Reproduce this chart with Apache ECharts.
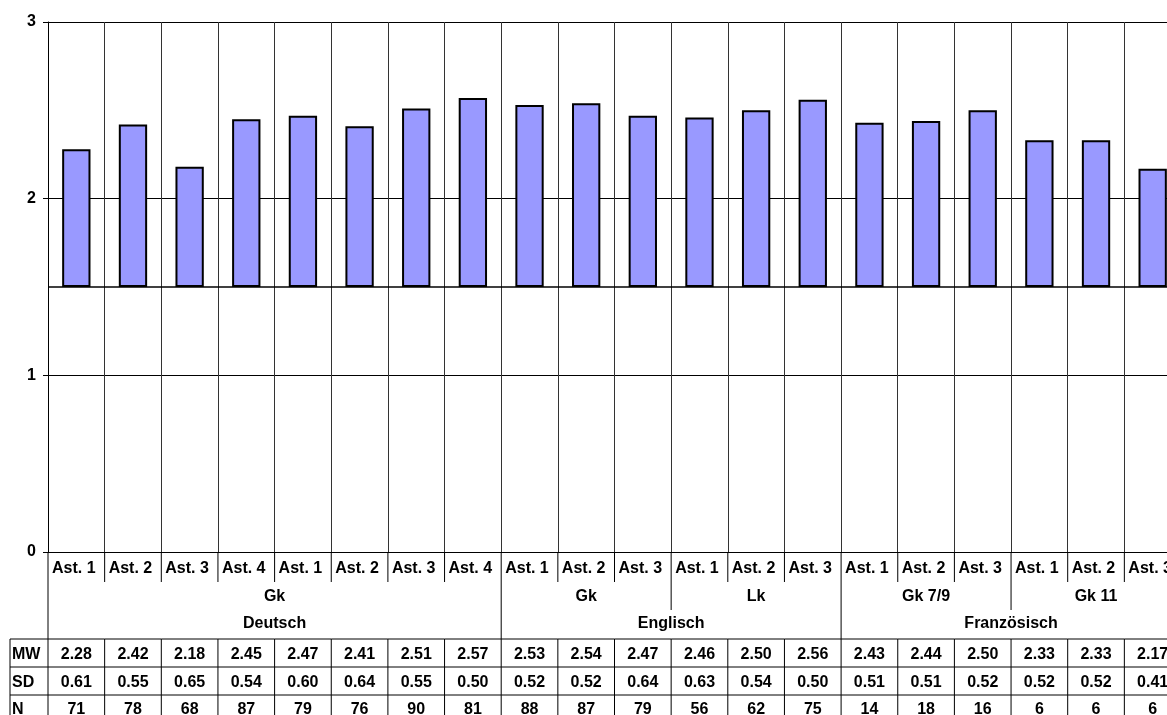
<!DOCTYPE html>
<html>
<head>
<meta charset="utf-8">
<script src="https://cdn.jsdelivr.net/npm/echarts@6/dist/echarts.min.js"></script>
<style>
  html, body { margin: 0; padding: 0; background: #fff; }
  #chart { width: 1167px; height: 715px; }
</style>
</head>
<body>
<div id="chart"></div>
<script>
// category labels, innermost level first
const stages = ['Ast. 1', 'Ast. 2', 'Ast. 3', 'Ast. 4', 'Ast. 1', 'Ast. 2', 'Ast. 3', 'Ast. 4',
  'Ast. 1', 'Ast. 2', 'Ast. 3', 'Ast. 1', 'Ast. 2', 'Ast. 3',
  'Ast. 1', 'Ast. 2', 'Ast. 3', 'Ast. 1', 'Ast. 2', 'Ast. 3']
const courses = [
  { name: 'Gk', start: 0, count: 8 },
  { name: 'Gk', start: 8, count: 3 },
  { name: 'Lk', start: 11, count: 3 },
  { name: 'Gk 7/9', start: 14, count: 3 },
  { name: 'Gk 11', start: 17, count: 3 }
]
const subjects = [
  { name: 'Deutsch', start: 0, count: 8 },
  { name: 'Englisch', start: 8, count: 6 },
  { name: 'Französisch', start: 14, count: 6 }
]

// table rows
const mw = [2.28, 2.42, 2.18, 2.45, 2.47, 2.41, 2.51, 2.57, 2.53, 2.54, 2.47, 2.46, 2.50, 2.56, 2.43, 2.44, 2.50, 2.33, 2.33, 2.17]
const sd = [0.61, 0.55, 0.65, 0.54, 0.60, 0.64, 0.55, 0.50, 0.52, 0.52, 0.64, 0.63, 0.54, 0.50, 0.51, 0.51, 0.52, 0.52, 0.52, 0.41]
const nn = [71, 78, 68, 87, 79, 76, 90, 81, 88, 87, 79, 56, 62, 75, 14, 18, 16, 6, 6, 6]

const yTicks = [0, 1, 2, 3]
const baseLine = 1.5

const FONT = 'bold 16px "Liberation Sans", Arial, sans-serif'

const chart = echarts.init(document.getElementById('chart'))

function txt(text, x, y, align) {
  return {
    type: 'text',
    style: { text, x, y, font: FONT, fill: '#000', align: align || 'center', verticalAlign: 'middle' }
  }
}
function ln(x1, y1, x2, y2) {
  return {
    type: 'line',
    shape: { x1, y1, x2, y2 },
    style: { stroke: '#000', lineWidth: 1 }
  }
}

function renderTable(params, api) {
  const i = api.value(0)
  const c = api.coord([i, 0])
  const w = api.size([1, 0])[0]
  const left = c[0] - w / 2
  const y0 = c[1]
  const children = []

  const subj = subjects.find(s => s.start === i)
  const course = courses.find(s => s.start === i)
  const depth = subj ? 87 : (course ? 58 : 30)
  children.push(ln(left, y0, left, y0 + depth))
  children.push(txt(stages[i], left + 4, y0 + 17, 'left'))
  if (course) children.push(txt(course.name, left + w * course.count / 2, y0 + 45))
  if (subj) children.push(txt(subj.name, left + w * subj.count / 2, y0 + 72))

  // data table
  const top = y0 + 87
  children.push(ln(left, top, left, top + 100))
  for (let r = 0; r < 3; r++) {
    children.push(ln(left, top + r * 28, left + w, top + r * 28))
  }
  children.push(txt(mw[i].toFixed(2), c[0], top + 16))
  children.push(txt(sd[i].toFixed(2), c[0], top + 44))
  children.push(txt(String(nn[i]), c[0], top + 71))

  if (i === 0) {
    const l0 = left - 38
    children.push(ln(l0, top, l0, top + 100))
    for (let r = 0; r < 3; r++) {
      children.push(ln(l0, top + r * 28, left, top + r * 28))
    }
    children.push(txt('MW', l0 + 2, top + 16, 'left'))
    children.push(txt('SD', l0 + 2, top + 44, 'left'))
    children.push(txt('N', l0 + 2, top + 71, 'left'))
  }
  return { type: 'group', children }
}

const option = {
  animation: false,
  grid: { left: 48, right: -14, top: 22, bottom: 163, outerBoundsMode: 'none', containLabel: false },
  xAxis: {
    type: 'category',
    data: stages,
    axisLine: { lineStyle: { color: '#000', width: 1 } },
    axisTick: { show: false },
    axisLabel: { show: false },
    splitLine: { show: true, interval: 0, lineStyle: { color: '#333', width: 1 } }
  },
  yAxis: {
    type: 'value',
    min: yTicks[0],
    max: yTicks[yTicks.length - 1],
    interval: 1,
    axisLine: { show: true, lineStyle: { color: '#000', width: 1 } },
    axisTick: { show: true, length: 5, lineStyle: { color: '#000' } },
    axisLabel: { color: '#000', fontWeight: 'bold', fontSize: 16, fontFamily: '"Liberation Sans", Arial', margin: 12 },
    splitLine: { show: true, lineStyle: { color: '#000', width: 1 } }
  },
  series: [
    {
      type: 'bar',
      stack: 'mw',
      silent: true,
      barWidth: '50%',
      itemStyle: { color: 'transparent' },
      data: mw.map(() => baseLine)
    },
    {
      type: 'bar',
      stack: 'mw',
      barWidth: '50%',
      itemStyle: { color: '#9999ff', borderColor: '#000', borderWidth: 2 },
      data: mw.map(v => +(v - baseLine).toFixed(2)),
      markLine: {
        silent: true,
        symbol: 'none',
        label: { show: false },
        lineStyle: { color: '#000', type: 'solid', width: 1.5 },
        data: [{ yAxis: baseLine }]
      }
    },
    {
      type: 'custom',
      clip: false,
      silent: true,
      renderItem: renderTable,
      encode: { x: 0, y: 1 },
      data: stages.map((s, i) => [i, 0])
    }
  ]
}

chart.setOption(option)
</script>
</body>
</html>
